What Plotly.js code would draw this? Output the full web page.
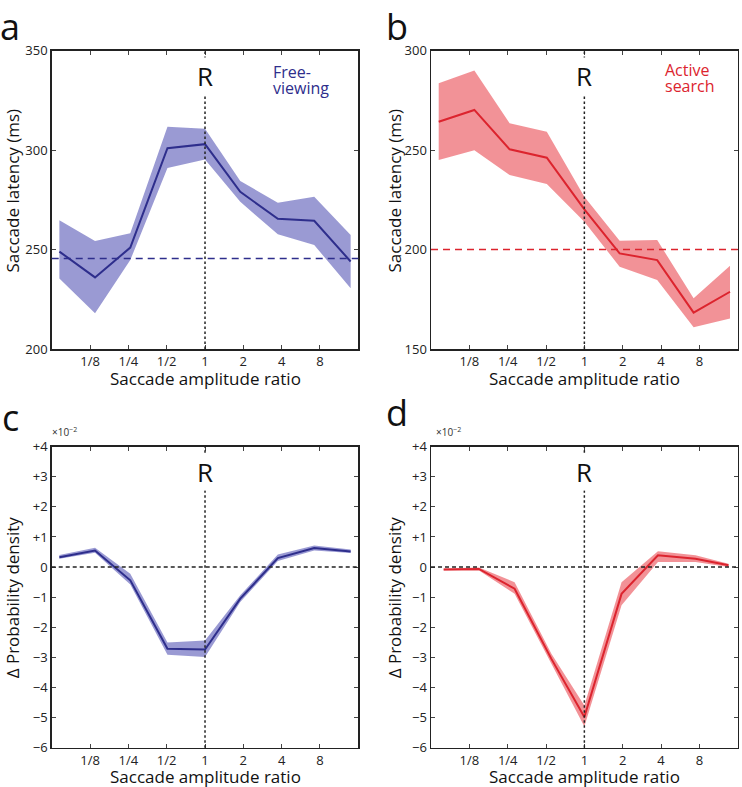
<!DOCTYPE html>
<html>
<head>
<meta charset="utf-8">
<script src="https://cdn.plot.ly/plotly-3.0.1.min.js"></script>
<style>html,body{margin:0;padding:0;background:#fff;}#chart{width:742px;height:787px;}</style>
</head>
<body>
<div id="chart"></div>
<script>
// ---- data (x in log2 of saccade amplitude ratio) ----
const tickVals = [-3, -2, -1, 0, 1, 2, 3];
const tickText = ['1/8', '1/4', '1/2', '1', '2', '4', '8'];
const xTop = [-3.8, -2.87, -1.95, -0.98, 0, 0.92, 1.9, 2.85, 3.8];
const xD = [-3.67, -2.75, -1.82, -0.86, 0, 0.97, 1.92, 2.9, 3.76];

// a: free-viewing latency (ms)
const latFree = [249, 236, 251, 301, 303, 279, 265.5, 264.5, 244];
const latFreeHi = [264.7, 254.3, 258.2, 311.8, 310.8, 284.5, 273.6, 276.6, 257.3];
const latFreeLo = [235.5, 218, 244.7, 291, 295.3, 274, 257.7, 252.3, 230.5];
const latFreeRef = 245.5;

// b: active search latency (ms)
const latSearch = [264.3, 270.2, 250.4, 246.2, 220.2, 198.1, 194.7, 168.3, 178.8];
const latSearchHi = [283.6, 290, 263.5, 259.3, 226.6, 204.5, 204.8, 175.5, 191.9];
const latSearchLo = [245, 250, 237.5, 233, 214, 191.4, 184.7, 160.9, 165.4];
const latSearchRef = 200;

// c: free-viewing delta probability density (x10^-2)
const dpFree = [0.33, 0.55, -0.44, -2.71, -2.74, -1.05, 0.3, 0.63, 0.52];
const dpFreeHi = [0.4, 0.64, -0.22, -2.51, -2.44, -0.94, 0.42, 0.72, 0.58];
const dpFreeLo = [0.28, 0.48, -0.58, -2.91, -2.99, -1.16, 0.2, 0.55, 0.47];

// d: active search delta probability density (x10^-2)
const dpSearch = [-0.08, -0.06, -0.72, -3.05, -4.98, -0.89, 0.39, 0.28, 0.06];
const dpSearchHi = [-0.05, -0.01, -0.5, -2.88, -4.6, -0.5, 0.53, 0.39, 0.11];
const dpSearchLo = [-0.11, -0.11, -0.89, -3.21, -5.3, -1.27, 0.17, 0.17, 0.0];

const dpTickVals = [-6, -5, -4, -3, -2, -1, 0, 1, 2, 3, 4];
const dpTickText = ['\u22126', '\u22125', '\u22124', '\u22123', '\u22122', '\u22121', '0', '+1', '+2', '+3', '+4'];

// ---- styles ----
const BLUE = 'rgb(46,46,140)';
const BLUE_FILL = 'rgba(120,120,196,0.75)';
const RED = 'rgb(220,36,46)';
const RED_FILL = 'rgba(238,110,116,0.75)';
const FONT = 'Open Sans, Lato, sans-serif';

function band(x, hi, lo, fill, xa, ya) {
  return {
    x: x.concat(x.slice().reverse()),
    y: hi.concat(lo.slice().reverse()),
    fill: 'toself', fillcolor: fill, mode: 'lines', line: {width: 0},
    hoverinfo: 'skip', showlegend: false, xaxis: xa, yaxis: ya
  };
}
function line(x, y, color, xa, ya) {
  return {x: x, y: y, mode: 'lines', line: {color: color, width: 2},
    showlegend: false, xaxis: xa, yaxis: ya};
}

const data = [
  band(xTop, latFreeHi, latFreeLo, BLUE_FILL, 'x', 'y'),
  line(xTop, latFree, BLUE, 'x', 'y'),
  band(xTop, latSearchHi, latSearchLo, RED_FILL, 'x2', 'y2'),
  line(xTop, latSearch, RED, 'x2', 'y2'),
  band(xTop, dpFreeHi, dpFreeLo, BLUE_FILL, 'x3', 'y3'),
  line(xTop, dpFree, BLUE, 'x3', 'y3'),
  band(xD, dpSearchHi, dpSearchLo, RED_FILL, 'x4', 'y4'),
  line(xD, dpSearch, RED, 'x4', 'y4')
];

const xl = [0.0697, 0.4829], xr = [0.5809, 0.9942];
const yt = [0.5565, 0.9356], yb = [0.050, 0.4324];

function xax(dom, anchor) {
  return {domain: dom, anchor: anchor, range: [-4, 4], tickvals: tickVals, ticktext: tickText,
    ticks: 'inside', ticklen: 4, tickcolor: '#444', mirror: 'allticks', showline: true,
    linecolor: '#222', linewidth: 1.5, showgrid: false, zeroline: false,
    tickfont: {family: FONT, size: 13, color: '#222'}, fixedrange: true};
}
function yax(dom, anchor, range, tv, tt) {
  const o = {domain: dom, anchor: anchor, range: range, ticks: 'inside', ticklen: 4, tickcolor: '#444',
    mirror: 'allticks', showline: true, linecolor: '#222', linewidth: 1.5, showgrid: false,
    zeroline: false, tickfont: {family: FONT, size: 13, color: '#222'}, fixedrange: true};
  if (tv) { o.tickvals = tv; o.ticktext = tt; } else { o.dtick = 50; }
  return o;
}

function vline(xa, ya) {
  return {type: 'line', xref: xa, yref: ya + ' domain', x0: 0, x1: 0, y0: 0, y1: 1,
    line: {color: '#222', width: 1.5, dash: '2.5px,2.5px'}};
}
function hline(xa, ya, y, color, dash) {
  return {type: 'line', xref: xa + ' domain', yref: ya, x0: 0, x1: 1, y0: y, y1: y,
    line: {color: color, width: 1.5, dash: dash}};
}

const shapes = [
  vline('x', 'y'), vline('x2', 'y2'), vline('x3', 'y3'), vline('x4', 'y4'),
  hline('x', 'y', latFreeRef, BLUE, '7px,5px'),
  hline('x2', 'y2', latSearchRef, RED, '7px,5px'),
  hline('x3', 'y3', 0, '#222', '4px,3px'),
  hline('x4', 'y4', 0, '#222', '4px,3px')
];

function rLabel(xa, ya, yy) {
  return {text: 'R', xref: xa, yref: ya + ' domain', x: 0, y: yy, showarrow: false,
    xanchor: 'center', yanchor: 'middle',
    font: {family: FONT, size: 26, color: '#111'}, bgcolor: '#fff', borderpad: 0};
}
function legText(text, xa, ya, x, y, color) {
  return {text: text, xref: xa, yref: ya + ' domain', x: x, y: y, showarrow: false,
    xanchor: 'left', yanchor: 'middle', font: {family: FONT, size: 16, color: color}};
}
function paperText(text, x, y, size, color, opts) {
  return Object.assign({text: text, xref: 'paper', yref: 'paper', x: x, y: y, showarrow: false,
    xanchor: 'center', yanchor: 'middle',
    font: {family: FONT, size: size, color: color}}, opts || {});
}
const annotations = [
  rLabel('x', 'y', 0.915), rLabel('x2', 'y2', 0.915),
  rLabel('x3', 'y3', 0.915), rLabel('x4', 'y4', 0.915),
  legText('Free-', 'x', 'y', 1.72, 0.928, BLUE),
  legText('viewing', 'x', 'y', 1.72, 0.874, BLUE),
  legText('Active', 'x2', 'y2', 2.05, 0.935, RED),
  legText('search', 'x2', 'y2', 2.05, 0.881, RED),
  // panel letters
  paperText('a', 0.013, 1, 36, '#111', {yanchor: 'top'}),
  paperText('b', 0.535, 1, 36, '#111', {yanchor: 'top'}),
  paperText('c', 0.014, 0.469, 36, '#111'),
  paperText('d', 0.535, 0.476, 36, '#111'),
  // x10^-2
  paperText('\u00d710<sup>\u22122</sup>', 0.087, 0.451, 10, '#333'),
  paperText('\u00d710<sup>\u22122</sup>', 0.604, 0.451, 10, '#333'),
  // x titles
  paperText('Saccade amplitude ratio', 0.2769, 0.5195, 17, '#111'),
  paperText('Saccade amplitude ratio', 0.7875, 0.5195, 17, '#111'),
  paperText('Saccade amplitude ratio', 0.2769, 0.0131, 17, '#111'),
  paperText('Saccade amplitude ratio', 0.7875, 0.0131, 17, '#111'),
  // y titles
  paperText('Saccade latency (ms)', 0.0162, 0.758, 17, '#111', {textangle: -90}),
  paperText('Saccade latency (ms)', 0.5310, 0.758, 17, '#111', {textangle: -90}),
  paperText('\u0394 Probability density', 0.0162, 0.241, 17, '#111', {textangle: -90}),
  paperText('\u0394 Probability density', 0.5310, 0.241, 17, '#111', {textangle: -90})
];

const layout = {
  width: 742, height: 787,
  margin: {l: 0, r: 0, t: 0, b: 0},
  paper_bgcolor: '#fff', plot_bgcolor: '#fff',
  showlegend: false,
  xaxis: xax(xl, 'y'), yaxis: yax(yt, 'x', [200, 350]),
  xaxis2: xax(xr, 'y2'), yaxis2: yax(yt, 'x2', [150, 300]),
  xaxis3: xax(xl, 'y3'), yaxis3: yax(yb, 'x3', [-6, 4], dpTickVals, dpTickText),
  xaxis4: xax(xr, 'y4'), yaxis4: yax(yb, 'x4', [-6, 4], dpTickVals, dpTickText),
  shapes: shapes,
  annotations: annotations
};

Plotly.newPlot('chart', data, layout, {displayModeBar: false, staticPlot: true});
</script>
</body>
</html>
